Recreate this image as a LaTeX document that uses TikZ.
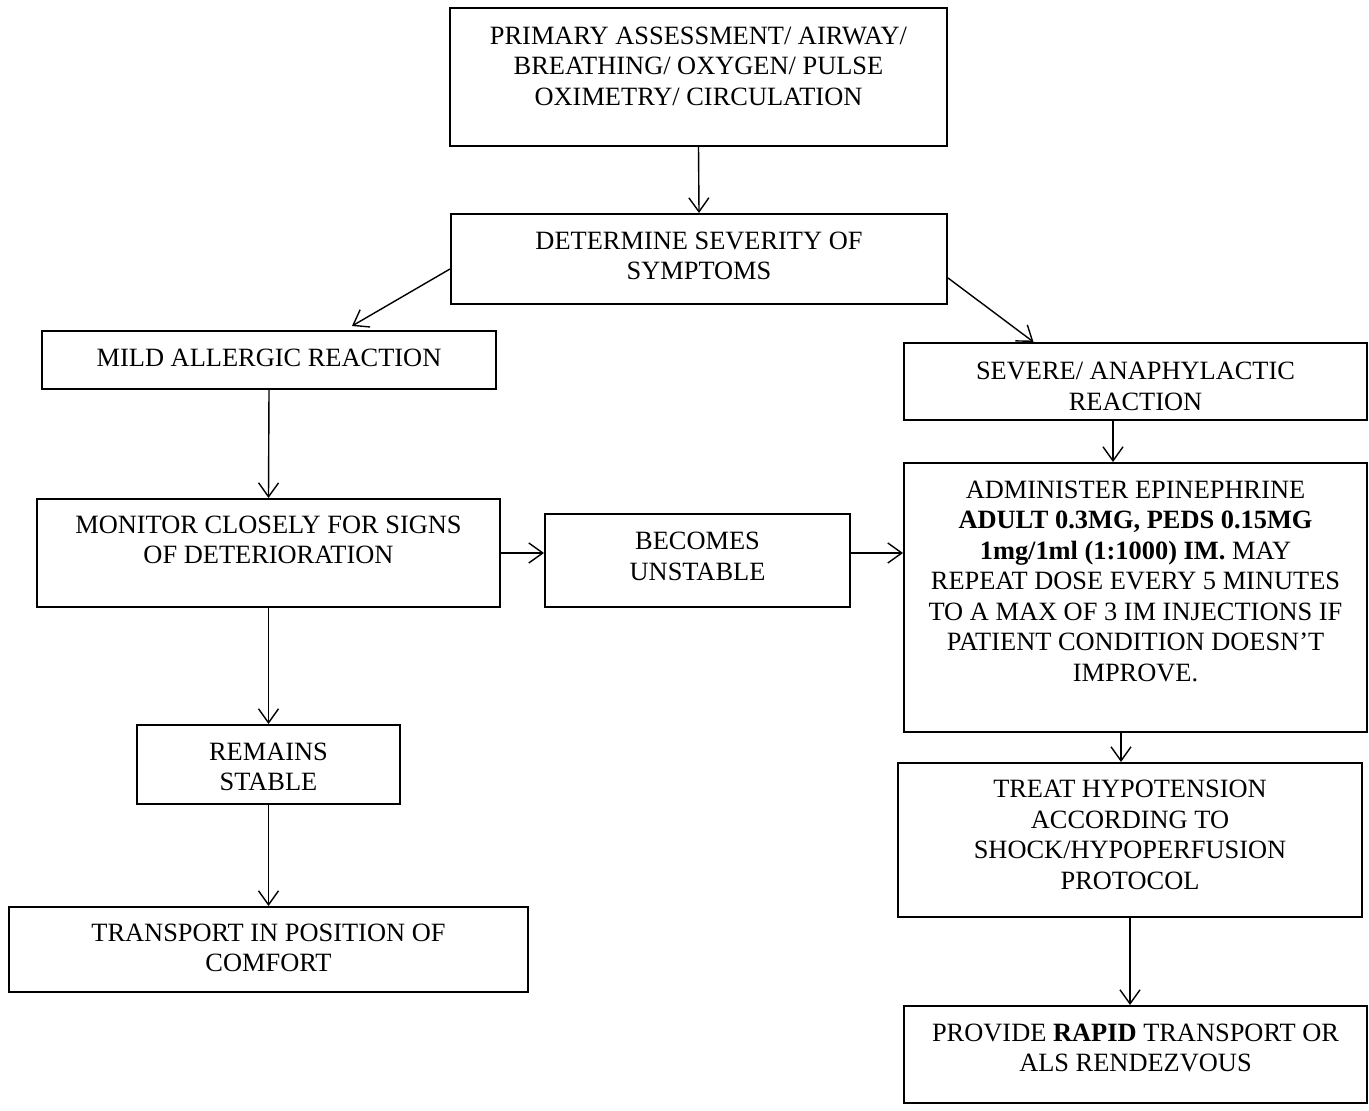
\documentclass[tikz,border=0pt]{standalone}
\usepackage{fontspec}
\setmainfont{Liberation Serif}
\usetikzlibrary{arrows.meta}
\tikzset{
  box/.style={draw, rectangle, line width=1pt, inner sep=0pt},
  txt/.style={align=center, inner sep=0pt, font=\fontsize{13.2pt}{15.25pt}\selectfont},
  arr/.style={-{Straight Barb[length=7pt,width=10pt]}, line width=0.7pt}
}
\begin{document}
\begin{tikzpicture}[x=0.5pt,y=-0.5pt]
  \useasboundingbox (0,0) rectangle (1369,1111);
  % boxes
  \node[box, minimum width=248.5pt, minimum height=69pt] (primary) at (698.5,77) {};
  \node[box, minimum width=248pt, minimum height=45pt] (severity) at (699,259) {};
  \node[box, minimum width=227pt, minimum height=29pt] (mild) at (269,360) {};
  \node[box, minimum width=231.5pt, minimum height=38.5pt] (severe) at (1135.5,381.5) {};
  \node[box, minimum width=231.5pt, minimum height=54pt] (monitor) at (268.5,553) {};
  \node[box, minimum width=152.5pt, minimum height=46.5pt] (unstable) at (697.5,560.5) {};
  \node[box, minimum width=231.5pt, minimum height=134.5pt] (epi) at (1135.5,597.5) {};
  \node[box, minimum width=131.5pt, minimum height=39.5pt] (stable) at (268.5,764.5) {};
  \node[box, minimum width=259.5pt, minimum height=42.5pt] (comfort) at (268.5,949.5) {};
  \node[box, minimum width=232pt, minimum height=77pt] (hypo) at (1130,840) {};
  \node[box, minimum width=231.5pt, minimum height=48.5pt] (rapid) at (1135.5,1054.5) {};
  % texts
  \node[txt] (primary-t) at (698.5,66) {PRIMARY ASSESSMENT/ AIRWAY/\\BREATHING/ OXYGEN/ PULSE\\OXIMETRY/ CIRCULATION};
  \node[txt] (severity-t) at (699,256) {DETERMINE SEVERITY OF\\SYMPTOMS};
  \node[txt] (mild-t) at (269,358) {MILD ALLERGIC REACTION};
  \node[txt] (severe-t) at (1135.5,386.5) {SEVERE/ ANAPHYLACTIC\\REACTION};
  \node[txt] (monitor-t) at (268.5,540) {MONITOR CLOSELY FOR SIGNS\\OF DETERIORATION};
  \node[txt] (unstable-t) at (697.5,556.5) {BECOMES\\UNSTABLE};
  \node[txt] (epi-t) at (1135.5,581) {ADMINISTER EPINEPHRINE\\\textbf{ADULT 0.3MG, PEDS 0.15MG}\\\textbf{1mg/1ml (1:1000) IM.} MAY\\REPEAT DOSE EVERY 5 MINUTES\\TO A MAX OF 3 IM INJECTIONS IF\\PATIENT CONDITION DOESN’T\\IMPROVE.};
  \node[txt] (stable-t) at (268.5,767) {REMAINS\\STABLE};
  \node[txt] (comfort-t) at (268.5,948) {TRANSPORT IN POSITION OF\\COMFORT};
  \node[txt] (hypo-t) at (1130,835) {TREAT HYPOTENSION\\ACCORDING TO\\SHOCK/HYPOPERFUSION\\PROTOCOL};
  \node[txt] (rapid-t) at (1135.5,1048) {PROVIDE \textbf{RAPID} TRANSPORT OR\\ALS RENDEZVOUS};
  % arrows
  \begin{scope}[arr]
    \draw (primary.south) to (severity.north);
    \draw ([yshift=-5pt]severity.west) to ([xshift=41.5pt,yshift=2pt]mild.north);
    \draw ([yshift=-9.5pt]severity.east) to ([xshift=-51pt]severe.north);
    \draw (mild.south) to (monitor.north);
    \draw (monitor.east) to (monitor.east -| unstable.west);
    \draw (monitor.east -| unstable.east) to (monitor.east -| epi.west);
    \draw (monitor.south) to (stable.north);
    \draw (stable.south) to (comfort.north);
    \draw ([xshift=-11.25pt]severe.south) to ([xshift=-11.25pt]severe.south |- epi.north);
    \draw ([xshift=-7.25pt]epi.south) to ([xshift=-7.25pt]epi.south |- hypo.north);
    \draw (hypo.south) to (hypo.south |- rapid.north);
  \end{scope}
\end{tikzpicture}
\end{document}
